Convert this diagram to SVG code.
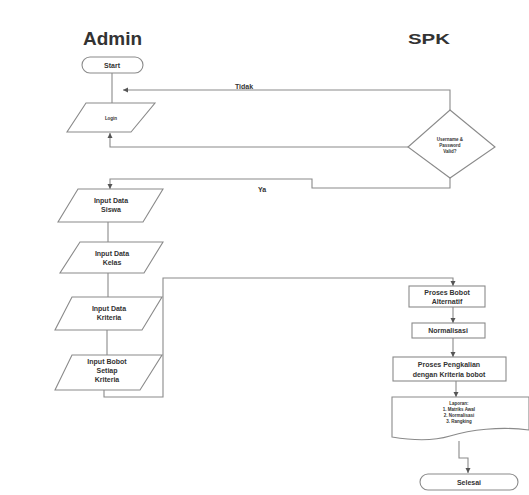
<svg xmlns="http://www.w3.org/2000/svg" width="529" height="495" viewBox="0 0 529 495">
<style>
.s{fill:#fff;stroke:#8a8a8a;stroke-width:1.1}
.c{fill:none;stroke:#8a8a8a;stroke-width:1.1}
.t{font-family:"Liberation Sans",Arial,sans-serif;font-size:7px;fill:#333;text-anchor:middle;font-weight:bold}
.tiny{font-family:"Liberation Sans",Arial,sans-serif;font-size:4.5px;fill:#333;text-anchor:middle;font-weight:bold}
.h{font-family:"Liberation Sans",Arial,sans-serif;fill:#333;font-weight:bold}
</style>
<defs>
<marker id="a" markerWidth="6" markerHeight="6" refX="5" refY="3" orient="auto" markerUnits="userSpaceOnUse"><path d="M0,0.5 L5,3 L0,5.5 Z" fill="#555"/></marker>
</defs>
<rect width="529" height="495" fill="#fff"/>
<text class="h" x="83" y="45" font-size="18" textLength="59" lengthAdjust="spacingAndGlyphs">Admin</text>
<text class="h" x="408" y="44" font-size="15" textLength="42" lengthAdjust="spacingAndGlyphs">SPK</text>
<g id="connectors">
<path class="c" d="M112,73 V103"/>
<path class="c" d="M450,110 V90 H123" marker-end="url(#a)"/>
<path class="c" d="M408,147 H110 V133" marker-end="url(#a)"/>
<path class="c" d="M450,178 V188 H312 V179 H110 V189" marker-end="url(#a)"/>
<path class="c" d="M108,222 V242"/>
<path class="c" d="M108,273 V297"/>
<path class="c" d="M107,330 V355"/>
<path class="c" d="M104,390 V397 H163 V278 H453 V286" marker-end="url(#a)"/>
<path class="c" d="M453,307 V323" marker-end="url(#a)"/>
<path class="c" d="M453,338 V357" marker-end="url(#a)"/>
<path class="c" d="M456,381 V397" marker-end="url(#a)"/>
<path class="c" d="M459,441 V458 H468 V473" marker-end="url(#a)"/>
<text class="t" x="244" y="89">Tidak</text>
<text class="t" x="262" y="192">Ya</text>
</g>
<g id="start">
<rect class="s" x="82" y="57" width="61" height="16" rx="8"/>
<text class="t" x="112" y="67.5">Start</text>
</g>
<g id="login">
<path class="s" d="M86,103 H155 L131,132 H67 Z"/>
<text class="tiny" x="111" y="119.5">Login</text>
</g>
<g id="decision">
<path class="s" d="M450,110 L495,147 L450,178 L408,147 Z"/>
<text class="tiny" x="450" y="141">Username &amp;</text>
<text class="tiny" x="450" y="147">Password</text>
<text class="tiny" x="450" y="153">Valid?</text>
</g>
<g id="siswa">
<path class="s" d="M78,189 H163 L143,222 H58 Z"/>
<text class="t" x="111" y="203">Input Data</text>
<text class="t" x="111" y="212">Siswa</text>
</g>
<g id="kelas">
<path class="s" d="M80,242 H163 L144,273 H60 Z"/>
<text class="t" x="112" y="256">Input Data</text>
<text class="t" x="112" y="265">Kelas</text>
</g>
<g id="kriteria">
<path class="s" d="M72,297 H162 L142,330 H55 Z"/>
<text class="t" x="109" y="311">Input Data</text>
<text class="t" x="109" y="320">Kriteria</text>
</g>
<g id="bobot">
<path class="s" d="M72,355 H162 L140,390 H55 Z"/>
<text class="t" x="107" y="364">Input Bobot</text>
<text class="t" x="107" y="373">Setiap</text>
<text class="t" x="107" y="382">Kriteria</text>
</g>
<g id="alternatif">
<rect class="s" x="409" y="286" width="76" height="21"/>
<text class="t" x="447" y="295">Proses Bobot</text>
<text class="t" x="447" y="304">Alternatif</text>
</g>
<g id="normalisasi">
<rect class="s" x="412" y="323" width="73" height="15"/>
<text class="t" x="448" y="333">Normalisasi</text>
</g>
<g id="pengkalian">
<rect class="s" x="393" y="357" width="113" height="24"/>
<text class="t" x="449" y="367">Proses Pengkalian</text>
<text class="t" x="449" y="377">dengan Kriteria bobot</text>
</g>
<g id="laporan">
<path class="s" d="M392,397 H529 V430 C500,426 470,430 450,436 C430,442 410,440 392,437 Z"/>
<text class="tiny" x="459" y="405">Laporan:</text>
<text class="tiny" x="459" y="411">1. Matriks Awal</text>
<text class="tiny" x="459" y="417">2. Normalisasi</text>
<text class="tiny" x="459" y="423">3. Rangking</text>
</g>
<g id="selesai">
<rect class="s" x="420" y="474" width="98" height="16" rx="8"/>
<text class="t" x="469" y="484.5">Selesai</text>
</g>
</svg>
